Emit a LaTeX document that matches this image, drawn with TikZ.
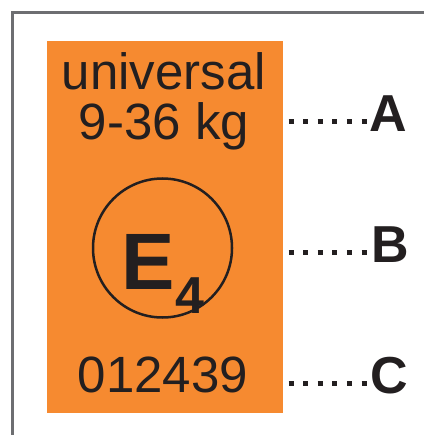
\documentclass[tikz,border=0pt]{standalone}
\usepackage{fontspec}
\setmainfont{Liberation Sans}
\definecolor{lbl}{HTML}{F68A30}
\definecolor{ink}{HTML}{231F20}
\definecolor{frame}{HTML}{6D6E71}
\begin{document}
\begin{tikzpicture}[x=1bp,y=-1bp,
  txt/.style={inner sep=0pt,text=ink,font=\fontsize{51bp}{60bp}\selectfont},
  letter/.style={inner sep=0pt,text=ink,font=\fontsize{52bp}{60bp}\selectfont\bfseries,anchor=base west},
  leader/.style={draw=ink,line width=5bp,dash pattern=on 5bp off 9.6bp}]
\useasboundingbox (0,0) rectangle (424,435);
\draw[frame,line width=2.8bp] (12.5,435) -- (12.5,12.5) -- (424,12.5);
\fill[lbl] (47,41) rectangle (283,412.5);
\node[txt,anchor=base] (uni) at (164,90) {universal};
\node[txt,anchor=base] (kg) at (164,140) {9-36 kg};
\node[draw=ink,line width=2.5bp,circle,minimum size=139bp,inner sep=0pt] (circ) at (162.5,248) {};
\node[inner sep=0pt,text=ink,font=\fontsize{80bp}{90bp}\selectfont\bfseries,anchor=base west] (e) at (121,289) {E};
\node[inner sep=0pt,text=ink,font=\fontsize{52bp}{60bp}\selectfont\bfseries,anchor=base west] (four) at (175,313) {4};
\node[txt,anchor=base] (num) at (163,392) {012439};
\coordinate (a0) at (288.5,122);
\coordinate (b0) at (288.5,252);
\coordinate (c0) at (288.5,383);
\node[letter] (A) at (369,132) {A};
\node[letter] (B) at (371,262) {B};
\node[letter] (C) at (370,393) {C};
\draw[leader] (a0) -- (A.west |- a0);
\draw[leader] (b0) -- (B.west |- b0);
\draw[leader] (c0) -- (C.west |- c0);
\end{tikzpicture}
\end{document}
